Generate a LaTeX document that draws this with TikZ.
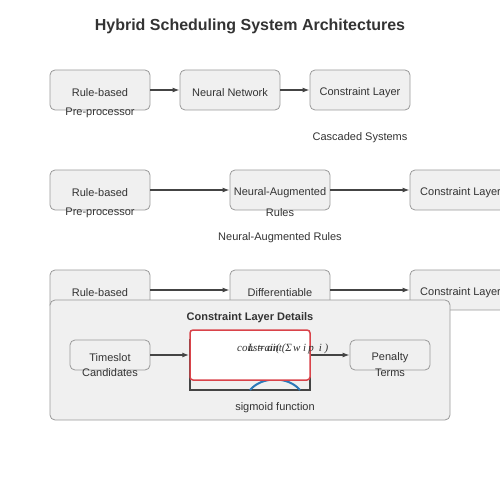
\documentclass[tikz,border=0pt]{standalone}
\usepackage{fontspec}
\setmainfont{Liberation Sans}
\newfontfamily\serifit{Liberation Serif}
\usepackage{tikz}
\usetikzlibrary{arrows.meta,calc}
\usepackage{xcolor}
\definecolor{BoxFill}{HTML}{F0F0F0}
\definecolor{BoxLine}{HTML}{999999}
\definecolor{InkGray}{HTML}{333333}
\definecolor{ArrowGray}{HTML}{444444}
\definecolor{SigRed}{HTML}{D9434A}
\definecolor{SigBlue}{HTML}{2B78B8}
\tikzset{
  block/.style={draw=BoxLine,thick,fill=BoxFill,rounded corners=5pt,text=InkGray,
    minimum width=100pt,minimum height=40pt,inner sep=0pt},
  smallblock/.style={block,minimum width=80pt,minimum height=30pt},
  txt/.style={text=InkGray,inner sep=0pt,yshift=-1.5pt,font=\fontsize{11}{13}\selectfont},
  flow/.style={draw=ArrowGray,line width=1.5pt,-{Latex[length=7pt,width=5pt]}},
}
\begin{document}
\begin{tikzpicture}[x=1pt,y=-1pt,font=\fontsize{11}{13}\selectfont]
  \useasboundingbox (0,0) rectangle (500,500);
  \clip (0,0) rectangle (500,500);

  \node[txt,font=\bfseries\fontsize{16}{19}\selectfont] (title) at (250,25) {Hybrid Scheduling System Architectures};

  \node[block] (a1) at (100,90) {};
  \node[block] (a2) at (230,90) {};
  \node[block] (a3) at (360,90) {};
  \node[txt] (a1t) at (100,91) {Rule-based};
  \node[txt] (a1b) at (100,111) {Pre-processor};
  \node[txt] (a2t) at (230,91) {Neural Network};
  \node[txt] (a3t) at (360,91) {Constraint Layer};
  \draw[flow] (a1) -- (a2);
  \draw[flow] (a2) -- (a3);
  \node[txt] (cascade) at (360,136) {Cascaded Systems};

  \node[block] (b1) at (100,190) {};
  \node[block] (b2) at (280,190) {};
  \node[block] (b3) at (460,190) {};
  \node[txt] (b1t) at (100,191) {Rule-based};
  \node[txt] (b1b) at (100,211) {Pre-processor};
  \node[txt] (b2t) at (280,191) {Neural-Augmented};
  \node[txt] (b2b) at (280,211) {Rules};
  \node[txt,anchor=west] (b3t) at (420,191) {Constraint Layer};
  \draw[flow] (b1) -- (b2);
  \draw[flow] (b2) -- (b3);
  \node[txt] (augmented) at (280,236) {Neural-Augmented Rules};

  \node[block] (c1) at (100,290) {};
  \node[block] (c2) at (280,290) {};
  \node[block] (c3) at (460,290) {};
  \node[txt] (c1t) at (100,291) {Rule-based};
  \node[txt] (c2t) at (280,291) {Differentiable};
  \node[txt,anchor=west] (c3t) at (420,291) {Constraint Layer};
  \draw[flow] (c1) -- (c2);
  \draw[flow] (c2) -- (c3);

  \draw[draw=BoxLine,thick,fill=BoxFill,rounded corners=5pt] (50,300) rectangle (450,420);
  \node[txt,font=\bfseries\fontsize{11}{13}\selectfont] (details) at (250,316) {Constraint Layer Details};

  \node[smallblock] (slots) at (110,355) {};
  \node[txt] (slotst) at (110,356) {Timeslot};
  \node[txt] (slotsb) at (110,371) {Candidates};

  \draw[draw=ArrowGray,line width=1.5pt] (190,340) rectangle (310,390);
  \draw[SigBlue,line width=2pt] (250,390) .. controls (262,376) and (288,376) .. (300,390);
  \node[draw=SigRed,line width=1.5pt,fill=white,rounded corners=3pt,minimum width=120pt,
    minimum height=50pt,inner sep=0pt] (sig) at (250,355) {};
  \node[txt,anchor=base west,font=\serifit\itshape\fontsize{11}{13}\selectfont] (sigf) at (237,350) {constraint(Σ\kern1pt w};
  \node[txt,anchor=base west,font=\serifit\itshape\fontsize{11}{13}\selectfont] (sigl) at (248,350) {L = ai(};
  \node[txt,anchor=base west,font=\serifit\itshape\fontsize{11}{13}\selectfont] (sigr) at (303,350) {i\kern2pt p\kern5pt i )};

  \node[smallblock] (penalty) at (390,355) {};
  \node[txt] (penaltyt) at (390,356) {Penalty};
  \node[txt] (penaltyb) at (390,371) {Terms};
  \draw[flow] (slots) -- (sig);
  \draw[flow] (sig) -- (penalty);
  \node[txt] (sigmoid) at (275,406) {sigmoid function};
\end{tikzpicture}
\end{document}
